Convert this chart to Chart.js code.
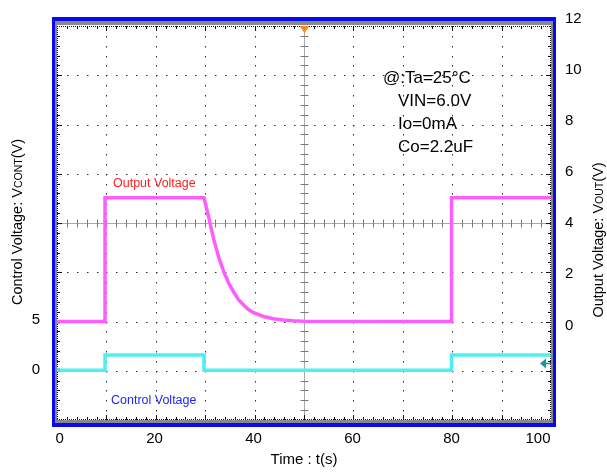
<!DOCTYPE html>
<html><head><meta charset="utf-8">
<script src="https://cdn.jsdelivr.net/npm/chart.js@4.4.1/dist/chart.umd.min.js"></script>
<style>html,body{margin:0;padding:0;background:#fff}#wrap{width:607px;height:472px}</style>
</head><body><div id="wrap"><canvas id="c" width="607" height="472"></canvas></div>
<script>
// ---- data ----
const timeTicks = [0, 20, 40, 60, 80, 100];
const outTicks = [0, 2, 4, 6, 8, 10, 12];
const ctrlTicks = [0, 5];

const outTime = [0, 10, 10, 30, 30.5, 31, 31.5, 32, 33, 34, 35, 36, 37, 38, 39, 40, 42, 44, 46, 48, 50, 80, 80, 100];
const outVolt = [0.15, 0.15, 5.0, 5.0, 4.6, 4.2, 3.75, 3.35, 2.65, 2.1, 1.65, 1.3, 1.0, 0.8, 0.62, 0.5, 0.35, 0.26, 0.21, 0.18, 0.16, 0.15, 5.0, 5.0];

const ctrlTime = [0, 10, 10, 30, 30, 80, 80, 100];
const ctrlVolt = [0, 0, 1.5, 1.5, 0, 0, 1.5, 1.5];

const triggerLevel = 0.7;
const notes = ['@:Ta=25°C', 'VIN=6.0V', 'Io=0mA', 'Co=2.2uF'];
const outLabel = 'Output Voltage';
const ctrlLabel = 'Control Voltage';
const xTitle = 'Time : t(s)';
const leftTitle = [['Control Voltage: V', 14.5], ['CONT', 10.5], ['(V)', 14.5]];
const rightTitle = [['Output Voltage: V', 14.5], ['OUT', 10.5], ['(V)', 14.5]];

const FONT = "'Liberation Sans', Arial, sans-serif";

function drawVTitle(c, cx, cy, parts) {
  c.save();
  c.translate(cx, cy);
  c.rotate(-Math.PI / 2);
  let w = 0;
  parts.forEach(p => { c.font = p[1] + 'px ' + FONT; w += c.measureText(p[0]).width; });
  let x = -w / 2;
  c.fillStyle = '#000';
  parts.forEach(p => {
    c.font = p[1] + 'px ' + FONT;
    c.textBaseline = 'alphabetic';
    c.fillText(p[0], x, 5);
    x += c.measureText(p[0]).width;
  });
  c.restore();
}

const scopePlugin = {
  id: 'scope',
  beforeDraw(chart) {
    const c = chart.ctx, A = chart.chartArea;
    const W = A.right - A.left, H = A.bottom - A.top;
    c.save();
    c.fillStyle = '#fff'; c.fillRect(0, 0, chart.width, chart.height);
    c.fillStyle = '#0a0af2'; c.fillRect(A.left - 5, A.top - 9, W + 10, H + 16);
    c.fillStyle = '#8a8a8a'; c.fillRect(A.left - 2, A.top - 5, W + 4, H + 8);
    c.fillStyle = '#fff'; c.fillRect(A.left, A.top - 1, W, H + 1);
    c.restore();
  },
  beforeDatasetsDraw(chart) {
    const c = chart.ctx, A = chart.chartArea;
    const W = A.right - A.left, H = A.bottom - A.top, dx = W / 10, dy = H / 8;
    c.save();
    c.fillStyle = '#2a2a2a';
    for (let i = 1; i < 10; i++) {
      if (i === 5) continue;
      const x = Math.round(A.left + i * dx);
      for (let j = 1; j < 40; j++) c.fillRect(x, Math.round(A.top + j * dy / 5), 1, 1.5);
    }
    for (let i = 1; i < 8; i++) {
      if (i === 4) continue;
      const y = Math.round(A.top + i * dy);
      for (let j = 1; j < 50; j++) c.fillRect(Math.round(A.left + j * dx / 5), y, 1.5, 1);
    }
    const cx = Math.round(A.left + 5 * dx) + 0.5, cy = Math.round(A.top + 4 * dy) + 0.5;
    c.strokeStyle = '#a8a8a8'; c.lineWidth = 1;
    c.beginPath(); c.moveTo(cx, A.top); c.lineTo(cx, A.bottom); c.stroke();
    c.beginPath(); c.moveTo(A.left, cy); c.lineTo(A.right, cy); c.stroke();
    c.strokeStyle = '#7a7a7a';
    c.beginPath();
    for (let j = 1; j < 40; j++) { const y = Math.round(A.top + j * dy / 5) + 0.5; c.moveTo(cx - 4, y); c.lineTo(cx + 4, y); }
    for (let j = 1; j < 50; j++) { const x = Math.round(A.left + j * dx / 5) + 0.5; c.moveTo(x, cy - 4); c.lineTo(x, cy + 4); }
    c.stroke();
    c.strokeStyle = '#111';
    c.setLineDash([1, 1]);
    c.beginPath();
    c.moveTo(A.left, A.top + 0.5); c.lineTo(A.right, A.top + 0.5);
    c.moveTo(A.left, A.bottom - 0.5); c.lineTo(A.right, A.bottom - 0.5);
    c.moveTo(A.left + 0.5, A.top); c.lineTo(A.left + 0.5, A.bottom);
    c.moveTo(A.right - 0.5, A.top); c.lineTo(A.right - 0.5, A.bottom);
    c.stroke();
    c.setLineDash([]);
    c.beginPath();
    for (let j = 1; j < 50; j++) {
      const x = Math.round(A.left + j * dx / 5) + 0.5, L = j % 5 === 0 ? 5 : 3;
      c.moveTo(x, A.top); c.lineTo(x, A.top + L);
      c.moveTo(x, A.bottom); c.lineTo(x, A.bottom - L);
    }
    for (let j = 1; j < 40; j++) {
      const y = Math.round(A.top + j * dy / 5) + 0.5, L = j % 5 === 0 ? 5 : 3;
      c.moveTo(A.left, y); c.lineTo(A.left + L, y);
      c.moveTo(A.right, y); c.lineTo(A.right - L, y);
    }
    c.stroke();
    c.restore();
  },
  afterDatasetsDraw(chart) {
    const c = chart.ctx, A = chart.chartArea;
    const W = A.right - A.left;
    const sL = chart.scales.yL, sR = chart.scales.yR;
    c.save();
    const cx = Math.round(A.left + W / 2) + 0.5;
    c.fillStyle = '#ff8a1c';
    c.beginPath(); c.moveTo(cx - 5, A.top); c.lineTo(cx + 5, A.top); c.lineTo(cx, A.top + 7); c.closePath(); c.fill();
    const ty = Math.round(sL.getPixelForValue(triggerLevel)) + 0.5;
    c.fillStyle = '#139a9a'; c.strokeStyle = '#139a9a'; c.lineWidth = 1.5;
    c.beginPath(); c.moveTo(A.right - 11, ty); c.lineTo(A.right - 5, ty - 5); c.lineTo(A.right - 5, ty + 5); c.closePath(); c.fill();
    c.beginPath(); c.moveTo(A.right - 6, ty); c.lineTo(A.right, ty); c.stroke();
    c.fillStyle = '#ff5cff'; c.fillRect(A.left, Math.round(sR.getPixelForValue(outVolt[0])) - 2, 3, 4);
    c.fillStyle = '#3fe6e6'; c.fillRect(A.left, Math.round(sL.getPixelForValue(0)) - 2, 3, 4);
    c.fillStyle = '#000';
    c.font = '17px ' + FONT;
    c.textBaseline = 'middle';
    c.textAlign = 'left';
    c.fillText(notes[0], A.left + 326, A.top + 52);
    for (let i = 1; i < notes.length; i++) c.fillText(notes[i], A.left + 341, A.top + 52 + i * 23);
    c.font = '12.5px ' + FONT;
    c.fillStyle = '#ff2020';
    c.fillText(outLabel, A.left + 56, A.top + 158);
    c.fillStyle = '#2323ff';
    c.fillText(ctrlLabel, A.left + 54, A.top + 375);
    c.restore();
    drawVTitle(c, 17, 222, leftTitle);
    drawVTitle(c, 598, 240, rightTitle);
  }
};

const tickFont = { family: FONT, size: 15 };

new Chart(document.getElementById('c'), {
  type: 'line',
  data: {
    datasets: [
      {
        label: ctrlLabel,
        data: ctrlTime.map((t, i) => ({ x: t, y: ctrlVolt[i] })),
        xAxisID: 'x', yAxisID: 'yL',
        borderColor: '#4df0f0', borderWidth: 3.5, pointRadius: 0, tension: 0,
        borderJoinStyle: 'miter', fill: false
      },
      {
        label: outLabel,
        data: outTime.map((t, i) => ({ x: t, y: outVolt[i] })),
        xAxisID: 'x', yAxisID: 'yR',
        borderColor: '#ff5cff', borderWidth: 3.5, pointRadius: 0, tension: 0,
        borderJoinStyle: 'miter', fill: false
      }
    ]
  },
  options: {
    responsive: false,
    animation: false,
    devicePixelRatio: 1,
    layout: { padding: { top: 16, left: 0, right: 0, bottom: 0 } },
    plugins: { legend: { display: false }, tooltip: { enabled: false } },
    scales: {
      x: {
        type: 'linear', position: 'bottom', min: 0.3, max: 100.1,
        afterBuildTicks: s => { s.ticks = timeTicks.map(v => ({ value: v })); },
        afterFit: s => { s.height = 52; },
        grid: { display: false, drawTicks: false },
        border: { display: false },
        ticks: { font: tickFont, color: '#000', padding: 10, align: 'inner', autoSkip: false, maxRotation: 0, callback: v => String(v) },
        title: { display: true, text: xTitle, font: { family: FONT, size: 15 }, color: '#000', padding: { top: 0, bottom: 3 } }
      },
      yL: {
        type: 'linear', position: 'left', min: -4.9, max: 33.94,
        afterBuildTicks: s => { s.ticks = ctrlTicks.map(v => ({ value: v })); },
        afterFit: s => { s.width = 57; },
        grid: { display: false, drawTicks: false },
        border: { display: false },
        ticks: { font: tickFont, color: '#000', padding: 17, autoSkip: false, callback: v => String(v) }
      },
      yR: {
        type: 'linear', position: 'right', min: -3.707, max: 11.731,
        afterBuildTicks: s => { s.ticks = outTicks.map(v => ({ value: v })); },
        afterFit: s => { s.width = 56; },
        grid: { display: false, drawTicks: false },
        border: { display: false },
        ticks: { font: tickFont, color: '#000', padding: 14, autoSkip: false, callback: v => String(v) }
      }
    }
  },
  plugins: [scopePlugin]
});
</script>
</body></html>
